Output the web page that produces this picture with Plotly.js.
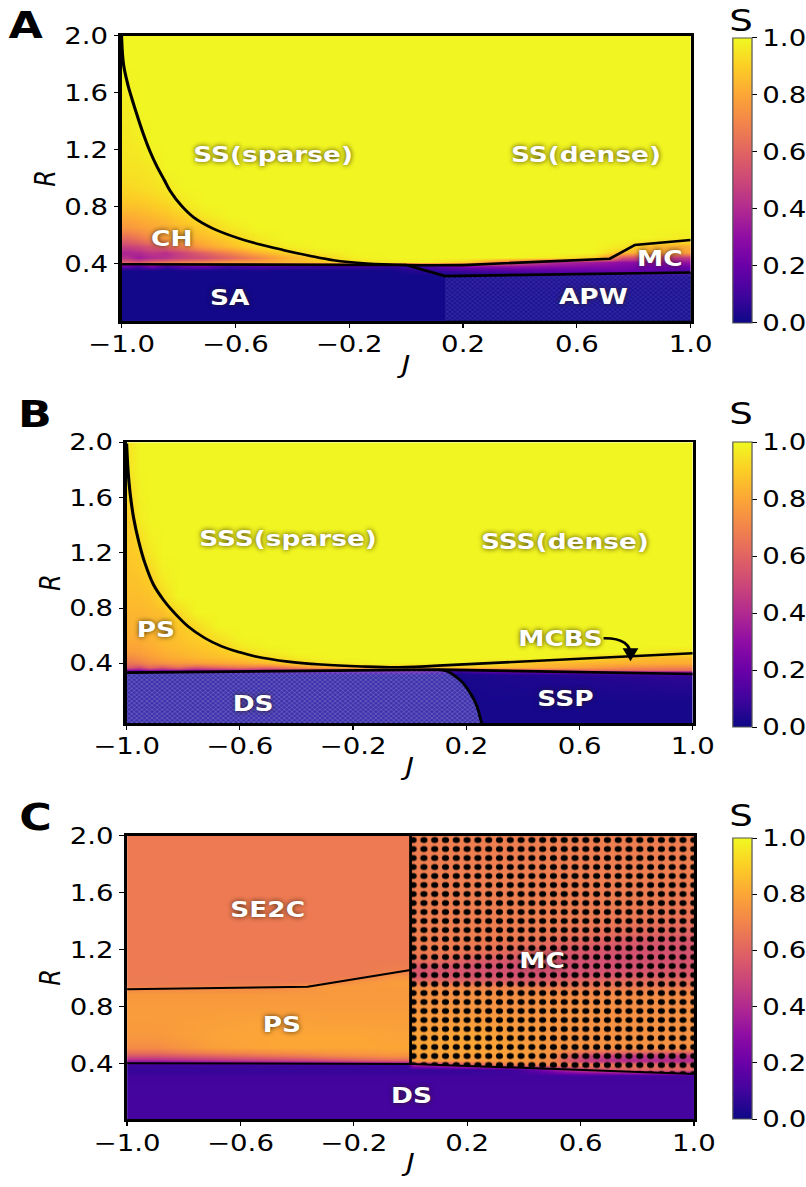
<!DOCTYPE html>
<html><head><meta charset="utf-8">
<script src="https://cdn.plot.ly/plotly-3.0.1.min.js"></script>
<style>
html,body{margin:0;padding:0;background:#fff;overflow:hidden;}
#chart{width:672px;height:1187px;transform:scaleX(1.19940);transform-origin:0 0;}
</style></head><body><div id="chart"></div>
<script>
// ---------- shared ----------
const PLASMA = [[0,'#0d0887'],[0.1,'#41049d'],[0.2,'#6a00a8'],[0.3,'#8f0da4'],[0.4,'#b12a90'],[0.5,'#cc4778'],[0.6,'#e16462'],[0.7,'#f2844b'],[0.8,'#fca636'],[0.9,'#fcce25'],[1,'#f0f921']];
const J_TICKS = [-1, -0.6, -0.2, 0.2, 0.6, 1.0];
const R_TICKS = [0.4, 0.8, 1.2, 1.6, 2.0];
const S_TICKS = [0, 0.2, 0.4, 0.6, 0.8, 1.0];
const S_TITLE = 'S';

// ---------- panel A ----------
const A_J_edges = [-1,-0.96,-0.92,-0.87,-0.82,-0.75,-0.67,-0.58,-0.48,-0.37,-0.25,-0.12,0,0.14,0.3,0.45,0.6,0.72,0.8,0.9,1.0];
const A_R_edges = [0,0.30,0.34,0.37,0.40,0.43,0.46,0.50,0.55,0.62,0.70,0.78,0.88,1.0,1.15,1.35,1.6,2.0];
const A_S = [
 [0.01,0.01,0.01,0.01,0.01,0.01,0.01,0.01,0.01,0.01,0.01,0.01,0.01,0.01,0.01,0.01,0.01,0.01,0.01,0.01],
 [0.01,0.01,0.01,0.01,0.01,0.01,0.01,0.01,0.01,0.01,0.01,0.01,0.01,0.03,0.03,0.03,0.03,0.03,0.03,0.03],
 [0.01,0.02,0.01,0.01,0.02,0.01,0.01,0.02,0.01,0.01,0.01,0.01,0.06,0.10,0.15,0.18,0.20,0.22,0.18,0.15],
 [0.20,0.12,0.25,0.10,0.18,0.22,0.10,0.15,0.12,0.10,0.10,0.08,0.12,0.30,0.32,0.30,0.28,0.25,0.22,0.22],
 [0.60,0.55,0.62,0.66,0.70,0.72,0.78,0.80,0.84,0.88,0.92,0.96,0.97,0.90,0.60,0.40,0.35,0.30,0.30,0.32],
 [0.42,0.35,0.40,0.42,0.48,0.52,0.60,0.70,0.82,0.90,0.98,0.99,0.99,0.99,0.99,0.97,0.90,0.55,0.50,0.45],
 [0.38,0.40,0.45,0.42,0.50,0.60,0.70,0.82,0.90,0.96,0.99,0.99,0.99,0.99,0.99,0.99,0.99,0.85,0.80,0.78],
 [0.48,0.50,0.55,0.60,0.68,0.78,0.85,0.92,0.97,0.99,0.99,0.99,0.99,0.99,0.99,0.99,0.99,0.96,0.85,0.82],
 [0.62,0.66,0.72,0.78,0.82,0.85,0.90,0.96,0.99,0.99,0.99,0.99,0.99,0.99,0.99,0.99,0.99,0.99,0.99,0.97],
 [0.76,0.78,0.80,0.82,0.86,0.90,0.96,0.99,0.99,0.99,0.99,0.99,0.99,0.99,0.99,0.99,0.99,0.99,0.99,0.99],
 [0.82,0.83,0.85,0.87,0.91,0.96,0.99,0.99,0.99,0.99,0.99,0.99,0.99,0.99,0.99,0.99,0.99,0.99,0.99,0.99],
 [0.88,0.88,0.90,0.92,0.96,0.99,0.99,0.99,0.99,0.99,0.99,0.99,0.99,0.99,0.99,0.99,0.99,0.99,0.99,0.99],
 [0.92,0.93,0.94,0.96,0.99,0.99,0.99,0.99,0.99,0.99,0.99,0.99,0.99,0.99,0.99,0.99,0.99,0.99,0.99,0.99],
 [0.95,0.95,0.96,0.99,0.99,0.99,0.99,0.99,0.99,0.99,0.99,0.99,0.99,0.99,0.99,0.99,0.99,0.99,0.99,0.99],
 [0.96,0.97,0.99,0.99,0.99,0.99,0.99,0.99,0.99,0.99,0.99,0.99,0.99,0.99,0.99,0.99,0.99,0.99,0.99,0.99],
 [0.97,0.99,0.99,0.99,0.99,0.99,0.99,0.99,0.99,0.99,0.99,0.99,0.99,0.99,0.99,0.99,0.99,0.99,0.99,0.99],
 [0.99,0.99,0.99,0.99,0.99,0.99,0.99,0.99,0.99,0.99,0.99,0.99,0.99,0.99,0.99,0.99,0.99,0.99,0.99,0.99]
];
// SS boundary: curved part then straight part
const A_curveJ = [-1,-0.993,-0.978,-0.962,-0.943,-0.924,-0.9,-0.875,-0.85,-0.828,-0.79,-0.747,-0.68,-0.606,-0.52,-0.43,-0.34,-0.256,-0.139,0.0,0.2];
const A_curveR = [2.0,1.80,1.66,1.55,1.43,1.317,1.19,1.082,0.99,0.91,0.81,0.728,0.65,0.592,0.54,0.497,0.458,0.426,0.403,0.393,0.392];
const A_mcJ = [0.2,0.716,0.804,1.0];
const A_mcR = [0.392,0.437,0.533,0.568];
const A_lowerJ = [-1,0.0,0.137,1.0];
const A_lowerR = [0.398,0.393,0.315,0.34];
const A_apwJ = [0.137,1.0,1.0,0.137];
const A_apwR = [0,0,0.34,0.315];
const A_labels = ['SS(sparse)','SS(dense)','CH','SA','MC','APW'];
const A_labelJ = [-0.468,0.632,-0.821,-0.62,0.889,0.658];
const A_labelR = [1.165,1.165,0.58,0.164,0.44,0.171];

// ---------- panel B ----------
const B_J_edges = [-1,-0.97,-0.94,-0.9,-0.85,-0.79,-0.72,-0.64,-0.55,-0.45,-0.35,-0.2,-0.05,0.1,0.25,0.4,0.55,0.7,0.85,1.0];
const B_R_edges = [-0.04,0.30,0.345,0.36,0.39,0.42,0.46,0.50,0.56,0.63,0.72,0.82,0.95,1.1,1.3,1.6,2.0];
const B_S = [
 [0.02,0.02,0.02,0.02,0.02,0.02,0.02,0.02,0.02,0.02,0.02,0.02,0.02,0.02,0.02,0.02,0.02,0.02,0.02],
 [0.02,0.02,0.02,0.02,0.02,0.02,0.02,0.02,0.02,0.02,0.02,0.02,0.02,0.02,0.04,0.05,0.06,0.08,0.10],
 [0.20,0.20,0.25,0.22,0.25,0.20,0.25,0.25,0.25,0.30,0.35,0.40,0.40,0.15,0.35,0.45,0.55,0.60,0.60],
 [0.55,0.50,0.60,0.55,0.62,0.55,0.60,0.65,0.62,0.72,0.80,0.88,0.85,0.88,0.86,0.82,0.78,0.72,0.70],
 [0.66,0.68,0.72,0.74,0.76,0.78,0.80,0.82,0.86,0.90,0.96,0.99,0.99,0.99,0.93,0.85,0.84,0.83,0.82],
 [0.72,0.74,0.77,0.80,0.82,0.84,0.86,0.88,0.92,0.97,0.99,0.99,0.99,0.99,0.99,0.99,0.93,0.86,0.85],
 [0.77,0.78,0.80,0.82,0.84,0.86,0.88,0.92,0.97,0.99,0.99,0.99,0.99,0.99,0.99,0.99,0.99,0.99,0.95],
 [0.80,0.80,0.82,0.84,0.86,0.88,0.90,0.97,0.99,0.99,0.99,0.99,0.99,0.99,0.99,0.99,0.99,0.99,0.99],
 [0.82,0.82,0.83,0.85,0.87,0.90,0.95,0.99,0.99,0.99,0.99,0.99,0.99,0.99,0.99,0.99,0.99,0.99,0.99],
 [0.83,0.84,0.84,0.86,0.88,0.93,0.99,0.99,0.99,0.99,0.99,0.99,0.99,0.99,0.99,0.99,0.99,0.99,0.99],
 [0.84,0.84,0.85,0.86,0.92,0.99,0.99,0.99,0.99,0.99,0.99,0.99,0.99,0.99,0.99,0.99,0.99,0.99,0.99],
 [0.86,0.86,0.87,0.92,0.99,0.99,0.99,0.99,0.99,0.99,0.99,0.99,0.99,0.99,0.99,0.99,0.99,0.99,0.99],
 [0.87,0.88,0.90,0.97,0.99,0.99,0.99,0.99,0.99,0.99,0.99,0.99,0.99,0.99,0.99,0.99,0.99,0.99,0.99],
 [0.89,0.90,0.96,0.99,0.99,0.99,0.99,0.99,0.99,0.99,0.99,0.99,0.99,0.99,0.99,0.99,0.99,0.99,0.99],
 [0.90,0.97,0.99,0.99,0.99,0.99,0.99,0.99,0.99,0.99,0.99,0.99,0.99,0.99,0.99,0.99,0.99,0.99,0.99],
 [0.96,0.99,0.99,0.99,0.99,0.99,0.99,0.99,0.99,0.99,0.99,0.99,0.99,0.99,0.99,0.99,0.99,0.99,0.99]
];
const B_curveJ = [-1,-0.995,-0.988,-0.975,-0.958,-0.936,-0.905,-0.87,-0.842,-0.783,-0.724,-0.666,-0.6,-0.548,-0.43,-0.313,-0.17,-0.038,0.1];
const B_curveR = [1.99,1.80,1.64,1.45,1.29,1.13,0.97,0.86,0.79,0.668,0.584,0.525,0.48,0.452,0.413,0.392,0.378,0.372,0.384];
const B_mcbsJ = [0.1,1.0];
const B_mcbsR = [0.384,0.473];
const B_lowerJ = [-1,0.1,1.0];
const B_lowerR = [0.333,0.355,0.323];
const B_dsEdgeJ = [0.1,0.135,0.162,0.185,0.203,0.22,0.233,0.243,0.25,0.255];
const B_dsEdgeR = [0.355,0.34,0.305,0.265,0.22,0.165,0.112,0.055,0.0,-0.033];
const B_dsJ = [-1,0.1,0.135,0.162,0.185,0.203,0.22,0.233,0.243,0.25,0.255,-1];
const B_dsR = [0.333,0.355,0.34,0.305,0.265,0.22,0.165,0.112,0.055,0.0,-0.033,-0.033];
const B_labels = ['SSS(sparse)','SSS(dense)','PS','DS','SSP','MCBS'];
const B_labelJ = [-0.432,0.55,-0.896,-0.553,0.55,0.533];
const B_labelR = [1.306,1.281,0.642,0.112,0.148,0.582];
const B_arrowJ = [0.685,0.785,0.78];
const B_arrowR = [0.582,0.585,0.415];

// ---------- panel C ----------
const C_J_edges = [-1,-0.8,-0.6,-0.36,-0.24,-0.12,-0.015,0,0.015,0.15,0.3,0.45,0.55,0.7,0.85,1.0];
const C_R_edges = [0.0,0.30,0.34,0.38,0.41,0.44,0.48,0.55,0.65,0.75,0.85,0.93,0.96,1.0,1.04,1.1,1.16,1.24,1.32,1.5,2.0];
const C_S = [
 [0.11,0.11,0.11,0.11,0.11,0.11,0.11,0.11,0.11,0.11,0.11,0.11,0.11,0.11,0.11],
 [0.10,0.10,0.10,0.10,0.10,0.10,0.10,0.10,0.10,0.10,0.10,0.10,0.10,0.10,0.10],
 [0.08,0.08,0.08,0.08,0.08,0.08,0.08,0.08,0.08,0.08,0.10,0.30,0.50,0.60,0.60],
 [0.10,0.10,0.10,0.10,0.10,0.10,0.10,0.40,0.40,0.60,0.70,0.72,0.70,0.65,0.60],
 [0.35,0.40,0.45,0.50,0.55,0.58,0.58,0.76,0.76,0.76,0.76,0.70,0.45,0.40,0.40],
 [0.55,0.60,0.65,0.70,0.72,0.74,0.74,0.78,0.78,0.78,0.78,0.72,0.50,0.45,0.45],
 [0.72,0.78,0.80,0.80,0.80,0.80,0.80,0.80,0.80,0.80,0.78,0.75,0.74,0.74,0.74],
 [0.76,0.79,0.80,0.80,0.80,0.79,0.79,0.79,0.79,0.80,0.77,0.75,0.74,0.74,0.74],
 [0.77,0.78,0.79,0.78,0.78,0.78,0.78,0.77,0.77,0.77,0.76,0.75,0.74,0.74,0.74],
 [0.77,0.77,0.77,0.77,0.77,0.77,0.77,0.75,0.75,0.75,0.74,0.74,0.74,0.73,0.73],
 [0.76,0.76,0.76,0.76,0.76,0.76,0.76,0.74,0.74,0.74,0.73,0.73,0.72,0.72,0.72],
 [0.68,0.69,0.70,0.77,0.77,0.77,0.77,0.72,0.72,0.70,0.68,0.66,0.66,0.66,0.66],
 [0.67,0.67,0.67,0.67,0.75,0.77,0.77,0.62,0.62,0.60,0.58,0.60,0.62,0.63,0.63],
 [0.67,0.67,0.67,0.67,0.67,0.74,0.74,0.56,0.56,0.55,0.54,0.54,0.55,0.57,0.58],
 [0.67,0.67,0.67,0.67,0.67,0.68,0.68,0.55,0.55,0.54,0.53,0.53,0.53,0.54,0.55],
 [0.67,0.67,0.67,0.67,0.67,0.67,0.67,0.64,0.64,0.58,0.55,0.54,0.53,0.53,0.54],
 [0.67,0.67,0.67,0.67,0.67,0.67,0.67,0.68,0.68,0.66,0.62,0.58,0.56,0.54,0.54],
 [0.67,0.67,0.67,0.67,0.67,0.67,0.67,0.68,0.68,0.68,0.67,0.64,0.62,0.58,0.56],
 [0.67,0.67,0.67,0.67,0.67,0.67,0.67,0.68,0.68,0.68,0.68,0.68,0.67,0.66,0.64],
 [0.67,0.67,0.67,0.67,0.67,0.67,0.67,0.68,0.68,0.68,0.68,0.68,0.68,0.68,0.68]
];
const C_vertJ = [0.0,0.0];
const C_vertR = [0.40,2.0];
const C_midJ = [-1,-0.363,0.0];
const C_midR = [0.923,0.94,1.058];
const C_lowerJ = [-1,0.0,1.0];
const C_lowerR = [0.404,0.40,0.33];
const C_mcJ = [0.0,1.0,1.0,0.0];
const C_mcR = [0.40,0.33,2.0,2.0];
const C_labels = ['SE2C','PS','DS','MC'];
const C_labelJ = [-0.503,-0.455,0.002,0.465];
const C_labelR = [1.479,0.673,0.182,1.128];

// ---------- build ----------
const FONT = 'DejaVu Sans, Arial, sans-serif';
function heat(xe, ye, z, xa, ya, cbTop, cbLen) {
  return {type:'heatmap', x:xe, y:ye, z:z, xaxis:xa, yaxis:ya, colorscale:PLASMA, zmin:0, zmax:1,
    zsmooth:'best', hoverinfo:'skip',
    colorbar:{x:0.9094, xanchor:'left', y:cbTop, yanchor:'top', len:cbLen, lenmode:'fraction',
      thickness:16, thicknessmode:'pixels', outlinewidth:1, outlinecolor:'#555',
      tickvals:S_TICKS, tickformat:'.1f', ticks:'outside', ticklen:4, tickcolor:'#000',
      tickfont:{family:FONT, size:23, color:'#000'}, xpad:0, ypad:0}};
}
function line(xs, ys, xa, ya, w, shp) {
  return {type:'scatter', mode:'lines', x:xs, y:ys, xaxis:xa, yaxis:ya,
    line:{color:'#000', width:w, shape:shp || 'linear'}, hoverinfo:'skip', showlegend:false};
}
function patch(xs, ys, xa, ya, pattern, edge) {
  return {type:'scatter', mode:'lines', x:xs, y:ys, xaxis:xa, yaxis:ya, fill:'toself',
    fillcolor:'rgba(0,0,0,0)', fillpattern:pattern, line:edge, hoverinfo:'skip', showlegend:false};
}

const traces = [
  heat(A_J_edges, A_R_edges, A_S, 'x', 'y', 0.9680, 0.2401),
  patch(A_apwJ, A_apwR, 'x', 'y', {shape:'x', fgcolor:'#ffffff', fgopacity:0.22, bgcolor:'rgba(120,120,255,0.10)', size:3, solidity:0.2}, {color:'rgba(0,0,30,0.8)', width:1}),
  line(A_curveJ, A_curveR, 'x', 'y', 2.6, 'spline'),
  line(A_mcJ, A_mcR, 'x', 'y', 2.6),
  line(A_lowerJ, A_lowerR, 'x', 'y', 2.6),

  heat(B_J_edges, B_R_edges, B_S, 'x2', 'y2', 0.6276, 0.2401),
  patch(B_dsJ, B_dsR, 'x2', 'y2', {shape:'x', fgcolor:'#ffffff', fgopacity:0.35, bgcolor:'rgba(135,130,240,0.33)', size:3, solidity:0.3}, {color:'rgba(0,0,0,0)', width:0}),
  line(B_curveJ, B_curveR, 'x2', 'y2', 2.6, 'spline'),
  line(B_mcbsJ, B_mcbsR, 'x2', 'y2', 2.6),
  line(B_lowerJ, B_lowerR, 'x2', 'y2', 2.6),
  line(B_dsEdgeJ, B_dsEdgeR, 'x2', 'y2', 2.4, 'spline'),

  heat(C_J_edges, C_R_edges, C_S, 'x3', 'y3', 0.2940, 0.2367),
  patch(C_mcJ, C_mcR, 'x3', 'y3', {shape:'.', fgcolor:'#000000', fgopacity:1, bgcolor:'rgba(0,0,0,0)', size:9, solidity:0.34}, {color:'rgba(0,0,0,0)', width:0}),
  line(C_vertJ, C_vertR, 'x3', 'y3', 2.3),
  line(C_midJ, C_midR, 'x3', 'y3', 2),
  line(C_lowerJ, C_lowerR, 'x3', 'y3', 2)
];

function xAxis(dom, anchor) {
  return {domain:dom, anchor:anchor, range:[-1,1], tickvals:J_TICKS, tickformat:'.1f',
    ticks:'outside', ticklen:4, tickwidth:1, tickcolor:'#000', showgrid:false, zeroline:false,
    showline:true, mirror:true, linecolor:'#000', linewidth:2.6, ticklabelstandoff:-3,
    tickfont:{family:FONT, size:23, color:'#000'},
    title:{text:'<i>J</i>', standoff:0, font:{family:FONT, size:24, color:'#000'}}};
}
function yAxis(dom, anchor, rng) {
  return {domain:dom, anchor:anchor, range:rng, tickvals:R_TICKS, tickformat:'.1f',
    ticks:'outside', ticklen:4, tickwidth:1, tickcolor:'#000', showgrid:false, zeroline:false,
    showline:true, mirror:true, linecolor:'#000', linewidth:2.6,
    tickfont:{family:FONT, size:23, color:'#000'},
    title:{text:'<i>R</i>', standoff:1, font:{family:FONT, size:24, color:'#000'}}};
}

const annotations = [];
const LABEL_FONT = {family:FONT, size:22, color:'#ffffff', shadow:'0px 0px 5px rgba(40,30,10,0.85)'};
function addLabels(txts, js, rs, xa, ya) {
  txts.forEach((t, i) => annotations.push({text:'<b>'+t+'</b>', x:js[i], y:rs[i], xref:xa, yref:ya,
    showarrow:false, font:LABEL_FONT}));
}
addLabels(A_labels, A_labelJ, A_labelR, 'x', 'y');
addLabels(B_labels, B_labelJ, B_labelR, 'x2', 'y2');
addLabels(C_labels, C_labelJ, C_labelR, 'x3', 'y3');
// MCBS arrowhead
annotations.push({text:'', x:B_arrowJ[2], y:B_arrowR[2], ax:B_arrowJ[2], ay:B_arrowR[2]+0.04,
  xref:'x2', yref:'y2', axref:'x2', ayref:'y2', showarrow:true, arrowhead:2, arrowsize:1.1,
  arrowwidth:2.4, arrowcolor:'#000'});
// panel letters
const PANEL_LETTERS = ['A','B','C'];
const PANEL_X = [0.0323, 0.0434, 0.0434];
const PANEL_Y = [0.9781, 0.6512, 0.3109];
PANEL_LETTERS.forEach((t, i) => annotations.push({text:'<b>'+t+'</b>', x:PANEL_X[i], y:PANEL_Y[i],
  xref:'paper', yref:'paper', xanchor:'center', yanchor:'middle', showarrow:false,
  font:{family:FONT, size:37, color:'#000'}}));
// colour-bar titles
const CB_TITLE_X = 0.9206;
const CB_TITLE_Y = [0.9832, 0.6521, 0.3134];
CB_TITLE_Y.forEach(y => annotations.push({text:S_TITLE, x:CB_TITLE_X, y:y, xref:'paper', yref:'paper',
  xanchor:'center', yanchor:'middle', showarrow:false, font:{family:FONT, size:31, color:'#000'}}));

const shapes = [{type:'path', xref:'x2', yref:'y2',
  path:`M ${B_arrowJ[0]},${B_arrowR[0]} Q ${B_arrowJ[1]},${B_arrowR[1]} ${B_arrowJ[2]},${B_arrowR[2]+0.03}`,
  line:{color:'#000', width:2.4}}];

const layout = {
  width:672, height:1187, margin:{l:0, r:0, t:0, b:0}, paper_bgcolor:'#fff', plot_bgcolor:'#fff',
  showlegend:false, font:{family:FONT, color:'#000'},
  xaxis:xAxis([0.1510, 0.8582], 'y'), yaxis:yAxis([0.7296, 0.9697], 'x', [0, 2]),
  xaxis2:xAxis([0.1573, 0.8608], 'y2'), yaxis2:yAxis([0.3907, 0.6274], 'x2', [-0.033, 2]),
  xaxis3:xAxis([0.1579, 0.8623], 'y3'), yaxis3:yAxis([0.0569, 0.2961], 'x3', [0.011, 2]),
  annotations:annotations, shapes:shapes
};
Plotly.newPlot('chart', traces, layout, {displayModeBar:false, staticPlot:true});
</script></body></html>
